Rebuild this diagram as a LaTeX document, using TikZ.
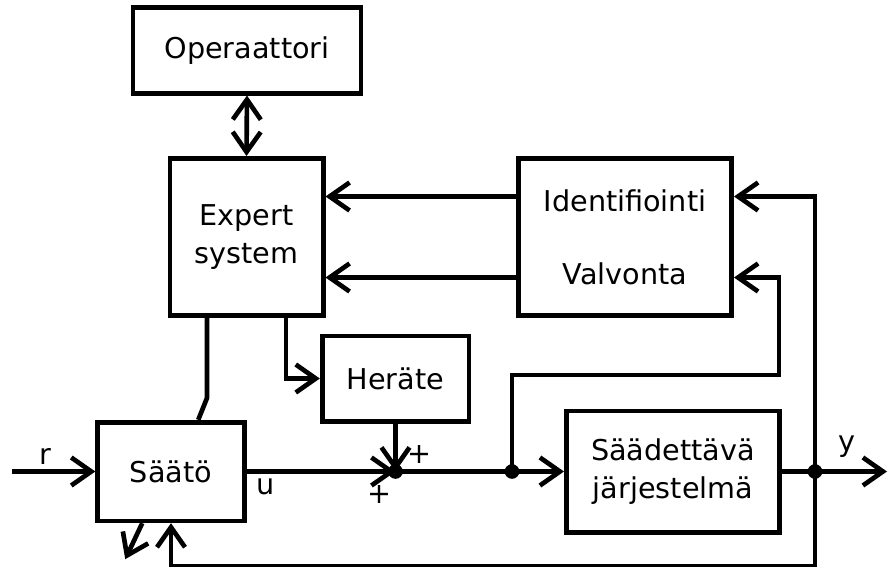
\documentclass[tikz,border=0pt]{standalone}
\usepackage{fontspec}
\setmainfont{DejaVu Sans}
\usetikzlibrary{arrows.meta,calc}

\begin{document}
\begin{tikzpicture}[
  x=0.75pt, y=-0.75pt,
  block/.style={rectangle, draw, line width=3.5pt, inner sep=0pt, align=center},
  link/.style={line width=3.5pt, ->},
  >={Straight Barb[length=15pt,width=21pt]},
  font=\fontsize{21.5}{28}\selectfont
]
\useasboundingbox (0,0) rectangle (888,567);

% blocks
\node[block, minimum width=171pt, minimum height=64pt] (oper) at (247,50.5) {Operaattori};
\node[block, minimum width=115pt, minimum height=118pt] (expert) at (246.5,237) {Expert\\system};
\node[block, minimum width=160pt, minimum height=118pt] (ident) at (625,237) {Identifiointi\\[27pt]Valvonta};
\node[block, minimum width=110pt, minimum height=64pt] (herate) at (395.5,378.5) {Heräte};
\node[block, minimum width=110pt, minimum height=74pt] (saato) at (171,471.5) {Säätö};
\node[block, minimum width=160pt, minimum height=91pt] (plant) at (673,471.5) {Säädettävä\\järjestelmä};

% points
\coordinate (rin) at (12,471.5);
\coordinate (yout) at (887,471.5);
\coordinate (sum) at (herate.south |- saato.east);
\coordinate (branch) at (512,471.5);
\coordinate (ydot) at (815,471.5);
\coordinate (id1) at ($(ident.north west)!0.25!(ident.south west)$);
\coordinate (id2) at ($(ident.north west)!0.75!(ident.south west)$);
\coordinate (id1r) at ($(ident.north east)!0.25!(ident.south east)$);
\coordinate (id2r) at ($(ident.north east)!0.75!(ident.south east)$);
\coordinate (ex1) at ($(expert.south west)!0.25!(expert.south east)$);
\coordinate (ex2) at ($(expert.south west)!0.75!(expert.south east)$);
\coordinate (sa1) at ($(saato.north west)!0.68!(saato.north east)$);
\coordinate (sa2) at ($(saato.south west)!0.31!(saato.south east)$);

% connectors
\draw[link, <->] (oper.south) -- (expert.north);
\draw[link] (id1) -- (id1 -| expert.east);
\draw[link] (id2) -- (id2 -| expert.east);
\draw[link] (ex2) |- (herate.west);
\draw[line width=3.5pt] (ex1) -- ++(0,80) -- (sa1);
\draw[link] (sa2) -- ++(-17,36);
\draw[link] (rin) -- node[above, pos=0.4] {r} (saato.west);
\draw[link] (saato.east) -- node[below, pos=0.13] {u} (sum);
\draw[link] (herate.south) -- (sum);
\draw[line width=3.5pt] (sum) -- (branch);
\draw[link] (branch) -- (plant.west);
\draw[link] (plant.east) -- (yout);
\draw[link] (branch) |- (779,375) |- (id2r);
\draw[link] (ydot) |- (id1r);
\draw[link] (ydot) -- (ydot |- 0,566) -| (saato.south);

\fill (sum) circle (5.5pt);
\fill (branch) circle (5.5pt);
\fill (ydot) circle (5.5pt);

% labels
\node at (420,455) {+};
\node at (380,495) {+};
\node at (847,447) {y};
\end{tikzpicture}
\end{document}
